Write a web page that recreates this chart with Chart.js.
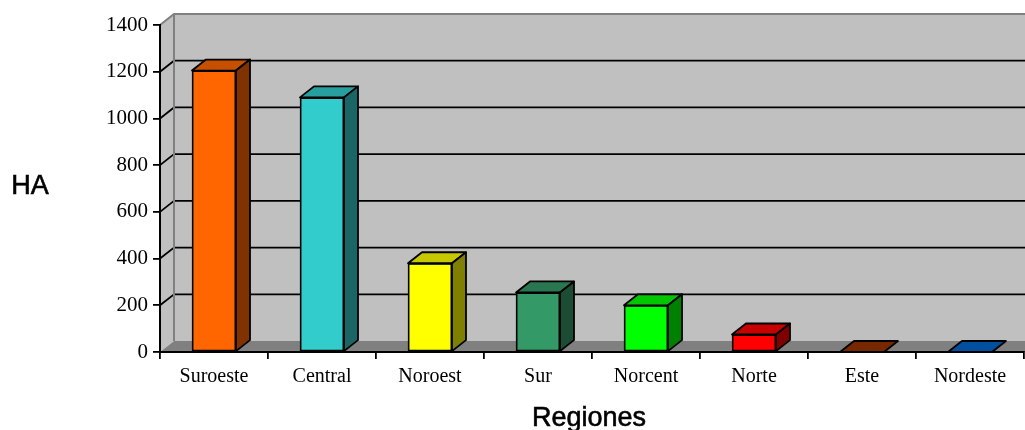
<!DOCTYPE html>
<html>
<head>
<meta charset="utf-8">
<script src="https://cdn.jsdelivr.net/npm/chart.js@4/dist/chart.umd.min.js"></script>
<style>
  html, body { margin: 0; padding: 0; background: #ffffff; }
  canvas { display: block; }
</style>
</head>
<body>
<canvas id="c" width="1025" height="430"></canvas>
<script>
const categories = ['Suroeste', 'Central', 'Noroest', 'Sur', 'Norcent', 'Norte', 'Este', 'Nordeste'];
const hectares = [1205, 1090, 380, 255, 200, 75, 0, 0];
const yTickValues = [0, 200, 400, 600, 800, 1000, 1200, 1400];
const yTickLabels = ['0', '200', '400', '600', '800', '1000', '1200', '1400'];
const barColors = ['#FF6600', '#33CCCC', '#FFFF00', '#339966', '#00FF00', '#FF0000', '#993300', '#0066CC'];
const yTitle = 'HA';
const xTitle = 'Regiones';

const DX = 14, DY = 11;

function shade(hex, f) {
  const n = parseInt(hex.slice(1), 16);
  const r = Math.round(((n >> 16) & 255) * f);
  const g = Math.round(((n >> 8) & 255) * f);
  const b = Math.round((n & 255) * f);
  return 'rgb(' + r + ',' + g + ',' + b + ')';
}

function poly(ctx, pts) {
  ctx.beginPath();
  ctx.moveTo(pts[0][0], pts[0][1]);
  for (let i = 1; i < pts.length; i++) ctx.lineTo(pts[i][0], pts[i][1]);
  ctx.closePath();
}

const walls3d = {
  id: 'walls3d',
  beforeDraw(chart) {
    const { ctx, chartArea: a, scales } = chart;
    const y = scales.y;
    ctx.save();
    ctx.fillStyle = '#C0C0C0';
    ctx.fillRect(a.left + DX, a.top - DY, (a.right - a.left) + 2, a.bottom - a.top);
    poly(ctx, [[a.left, a.top], [a.left + DX, a.top - DY], [a.left + DX, a.bottom - DY], [a.left, a.bottom]]);
    ctx.fill();
    ctx.fillStyle = '#808080';
    poly(ctx, [[a.left, a.bottom], [a.right + 2, a.bottom], [a.right + DX + 2, a.bottom - DY], [a.left + DX, a.bottom - DY]]);
    ctx.fill();
    ctx.strokeStyle = '#000000';
    ctx.lineWidth = 1.8;
    y.ticks.forEach(t => {
      if (t.value <= y.min || t.value >= y.max) return;
      const py = y.getPixelForValue(t.value);
      ctx.beginPath();
      ctx.moveTo(a.left, py);
      ctx.lineTo(a.left + DX, py - DY);
      ctx.lineTo(a.right + DX + 2, py - DY);
      ctx.stroke();
    });
    ctx.strokeStyle = '#808080';
    ctx.lineWidth = 2;
    ctx.beginPath();
    ctx.moveTo(a.left, a.top);
    ctx.lineTo(a.left + DX, a.top - DY);
    ctx.lineTo(a.right + DX + 2, a.top - DY);
    ctx.moveTo(a.left + DX, a.top - DY);
    ctx.lineTo(a.left + DX, a.bottom - DY);
    ctx.stroke();
    ctx.restore();
  },
  afterDatasetsDraw(chart) {
    const { ctx } = chart;
    const meta = chart.getDatasetMeta(0);
    ctx.save();
    ctx.strokeStyle = '#000000';
    ctx.lineWidth = 1.8;
    ctx.lineJoin = 'round';
    meta.data.forEach((bar, i) => {
      const p = bar.getProps(['x', 'y', 'width', 'base'], true);
      const l = p.x - p.width / 2, r = p.x + p.width / 2;
      const top = Math.min(p.y, p.base), bot = p.base;
      const c = barColors[i];
      ctx.fillStyle = shade(c, 0.78);
      poly(ctx, [[l, top], [r, top], [r + DX, top - DY], [l + DX, top - DY]]);
      ctx.fill(); ctx.stroke();
      if (bot - top > 0.5) {
        ctx.fillStyle = shade(c, 0.5);
        poly(ctx, [[r, top], [r + DX, top - DY], [r + DX, bot - DY], [r, bot]]);
        ctx.fill(); ctx.stroke();
      }
    });
    ctx.restore();
  },
  afterDraw(chart) {
    const { ctx, chartArea: a } = chart;
    ctx.save();
    ctx.fillStyle = '#000000';
    ctx.strokeStyle = '#000000';
    ctx.lineWidth = 0.6;
    ctx.font = '27px "Liberation Sans", Arial, sans-serif';
    ctx.textBaseline = 'alphabetic';
    ctx.textAlign = 'center';
    ctx.fillText(yTitle, 30, 194);
    ctx.strokeText(yTitle, 30, 194);
    const cx = (a.left + a.right) / 2 - 3;
    ctx.fillText(xTitle, cx, 426);
    ctx.strokeText(xTitle, cx, 426);
    ctx.restore();
  }
};

new Chart(document.getElementById('c'), {
  type: 'bar',
  data: {
    labels: categories,
    datasets: [{
      data: hectares,
      backgroundColor: barColors,
      borderColor: '#000000',
      borderWidth: 1.8,
      borderSkipped: false,
      barThickness: 44
    }]
  },
  options: {
    responsive: false,
    animation: false,
    devicePixelRatio: 1,
    layout: { padding: { top: 25, right: 1, left: 0, bottom: 0 } },
    plugins: { legend: { display: false }, tooltip: { enabled: false }, title: { display: false } },
    scales: {
      x: {
        afterFit(s) { s.height = 78; },
        grid: { display: true, drawOnChartArea: false, drawTicks: true, tickLength: 7, offset: true, color: '#000000', lineWidth: 1.8 },
        border: { display: true, color: '#000000', width: 2 },
        ticks: { color: '#000000', padding: 6, maxRotation: 0, autoSkip: false, font: { family: '"Liberation Serif", "Times New Roman", serif', size: 20 } }
      },
      y: {
        min: 0,
        max: 1400,
        afterFit(s) { s.width = 160; },
        afterBuildTicks(s) { s.ticks = yTickValues.map(v => ({ value: v })); },
        grid: { display: true, drawOnChartArea: false, drawTicks: true, tickLength: 7, color: '#000000', lineWidth: 1.8 },
        border: { display: true, color: '#000000', width: 2 },
        ticks: {
          color: '#000000', padding: 5,
          callback(value) { const i = yTickValues.indexOf(value); return i >= 0 ? yTickLabels[i] : ''; },
          font: { family: '"Liberation Serif", "Times New Roman", serif', size: 21 }
        }
      }
    }
  },
  plugins: [walls3d]
});
</script>
</body>
</html>
